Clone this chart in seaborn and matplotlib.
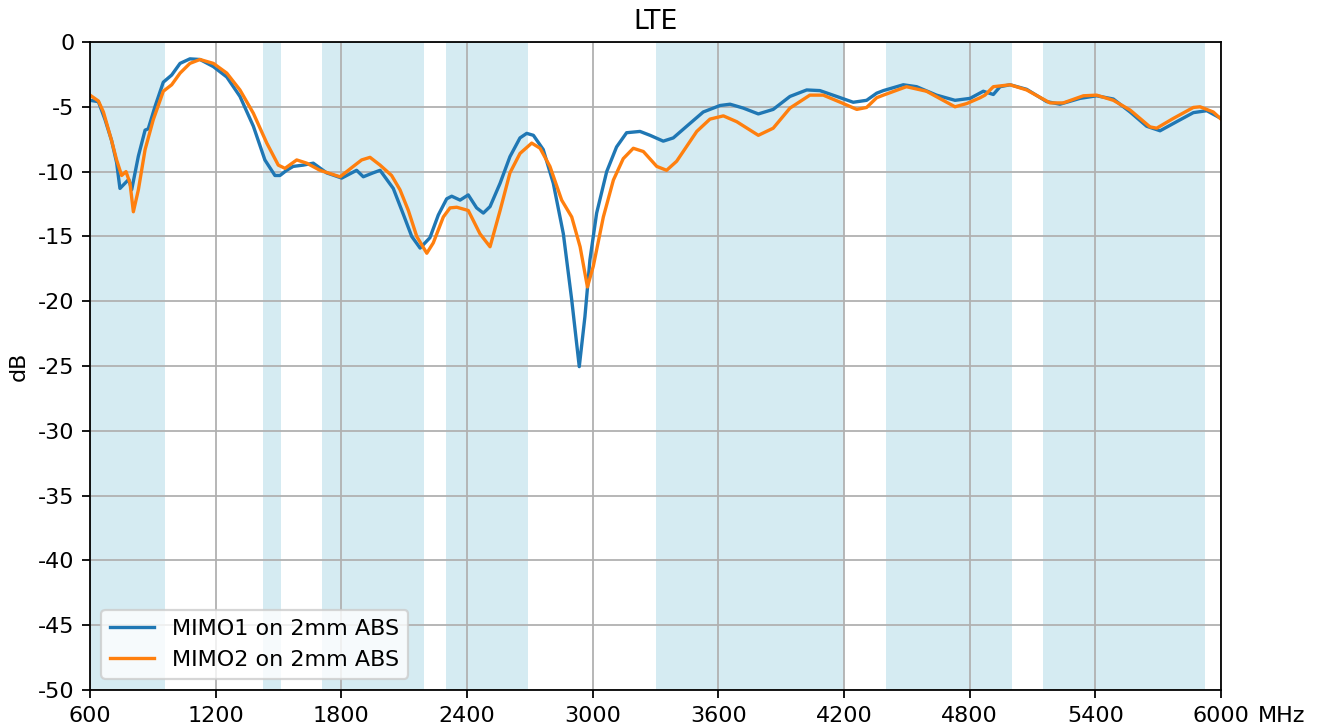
import matplotlib
matplotlib.use("Agg")
import matplotlib.pyplot as plt
import seaborn as sns
import pandas as pd

mimo1_freq = [600, 640, 672, 703, 727, 743, 767, 785, 799, 831, 863, 878, 910, 950, 990, 1030,
              1077, 1125, 1189, 1253, 1316, 1380, 1435, 1483, 1507, 1539, 1570, 1618, 1666, 1730,
              1802, 1873, 1905, 1951, 1985, 2048, 2096, 2136, 2176, 2223, 2263, 2303, 2327, 2367,
              2406, 2446, 2478, 2510, 2558, 2605, 2653, 2685, 2717, 2764, 2812, 2860, 2900, 2936,
              2963, 2987, 3019, 3067, 3114, 3162, 3226, 3274, 3337, 3385, 3449, 3528, 3608, 3656,
              3719, 3791, 3862, 3942, 4022, 4085, 4165, 4244, 4308, 4356, 4388, 4483, 4547, 4642,
              4730, 4802, 4865, 4913, 4945, 4993, 5072, 5168, 5231, 5327, 5406, 5486, 5566, 5645,
              5709, 5788, 5868, 5932, 6000]
mimo1_db = [-4.5, -4.6, -6.0, -7.6, -9.3, -11.3, -10.9, -10.6, -11.4, -8.8, -6.8, -6.7, -5.0, -3.1,
            -2.55, -1.65, -1.3, -1.35, -1.9, -2.7, -4.2, -6.5, -9.1, -10.3, -10.3, -9.9, -9.6, -9.5,
            -9.35, -10.1, -10.5, -9.9, -10.4, -10.1, -9.9, -11.3, -13.3, -15.0, -15.9, -15.1, -13.35,
            -12.1, -11.9, -12.2, -11.8, -12.8, -13.2, -12.7, -10.9, -8.85, -7.4, -7.05, -7.2, -8.3,
            -10.9, -14.8, -19.9, -25.05, -21.2, -16.8, -13.2, -10.0, -8.1, -7.0, -6.9, -7.2, -7.65,
            -7.4, -6.5, -5.4, -4.9, -4.8, -5.1, -5.55, -5.2, -4.2, -3.7, -3.75, -4.2, -4.65, -4.5,
            -3.95, -3.75, -3.3, -3.45, -4.1, -4.5, -4.35, -3.8, -4.05, -3.45, -3.3, -3.65, -4.6,
            -4.8, -4.35, -4.15, -4.4, -5.4, -6.5, -6.85, -6.15, -5.45, -5.3, -5.9]

mimo2_freq = [600, 640, 664, 703, 727, 751, 772, 791, 807, 831, 863, 902, 950, 990, 1030, 1077,
              1125, 1189, 1253, 1316, 1380, 1444, 1499, 1531, 1587, 1635, 1698, 1794, 1857, 1897,
              1937, 1985, 2040, 2080, 2120, 2160, 2208, 2239, 2287, 2319, 2351, 2406, 2462, 2510,
              2558, 2605, 2653, 2709, 2749, 2796, 2852, 2900, 2940, 2975, 3003, 3051, 3099, 3146,
              3194, 3242, 3306, 3353, 3401, 3497, 3560, 3624, 3688, 3791, 3862, 3942, 4037, 4101,
              4197, 4261, 4308, 4356, 4388, 4498, 4594, 4730, 4786, 4850, 4873, 4913, 4993, 5072,
              5184, 5247, 5343, 5406, 5486, 5566, 5661, 5693, 5772, 5868, 5900, 5963, 6000]
mimo2_db = [-4.1, -4.55, -5.4, -7.6, -9.1, -10.3, -10.0, -10.9, -13.1, -11.4, -8.3, -6.0, -3.8,
            -3.3, -2.4, -1.65, -1.35, -1.65, -2.4, -3.7, -5.5, -7.8, -9.5, -9.75, -9.1, -9.35, -9.9,
            -10.4, -9.6, -9.1, -8.9, -9.5, -10.3, -11.4, -13.0, -15.0, -16.3, -15.5, -13.5, -12.8,
            -12.75, -13.0, -14.8, -15.8, -13.0, -10.1, -8.6, -7.8, -8.2, -9.6, -12.2, -13.5, -15.8,
            -18.9, -17.3, -13.5, -10.65, -9.0, -8.2, -8.45, -9.6, -9.9, -9.2, -6.9, -5.95, -5.7,
            -6.15, -7.2, -6.65, -5.1, -4.1, -4.1, -4.75, -5.2, -5.05, -4.3, -4.1, -3.45, -3.8, -5.0,
            -4.75, -4.3, -4.1, -3.45, -3.3, -3.7, -4.7, -4.7, -4.15, -4.1, -4.5, -5.25, -6.55,
            -6.65, -5.9, -5.05, -5.0, -5.4, -5.95]

band_starts = [600, 1427, 1710, 2300, 3300, 4400, 5150]
band_ends = [960, 1511, 2195, 2690, 4200, 5000, 5925]

series_labels = ["MIMO1 on 2mm ABS", "MIMO2 on 2mm ABS"]
x_ticks = [600, 1200, 1800, 2400, 3000, 3600, 4200, 4800, 5400, 6000]
y_ticks = [0, -5, -10, -15, -20, -25, -30, -35, -40, -45, -50]

df1 = pd.DataFrame({"freq": mimo1_freq, "db": mimo1_db})
df2 = pd.DataFrame({"freq": mimo2_freq, "db": mimo2_db})

DPI = 160
fig = plt.figure(figsize=(1321 / DPI, 728 / DPI), dpi=DPI)
ax = fig.add_axes([90 / 1321, 38 / 728, (1221 - 90) / 1321, (690 - 42) / 728])

for s, e in zip(band_starts, band_ends):
    ax.axvspan(s, e, color="lightblue", alpha=0.5, lw=0)

sns.lineplot(data=df1, x="freq", y="db", ax=ax, color="tab:blue", label=series_labels[0],
             sort=False, estimator=None, linewidth=1.5)
sns.lineplot(data=df2, x="freq", y="db", ax=ax, color="tab:orange", label=series_labels[1],
             sort=False, estimator=None, linewidth=1.5)

ax.set_xlim(600, 6000)
ax.set_ylim(-50, 0)
ax.set_xticks(x_ticks)
ax.set_xticklabels([str(t) for t in x_ticks])
ax.set_yticks(y_ticks)
ax.set_yticklabels([str(t) for t in y_ticks])
ax.grid(True, color="#b0b0b0", linewidth=0.8)
ax.set_xlabel("")
ax.set_ylabel("dB")
ax.set_title("LTE")
ax.annotate("MHz", xy=(1, 0), xycoords="axes fraction", xytext=(16.5, -7),
            textcoords="offset points", ha="left", va="top", fontsize=10)
ax.legend(loc="lower left")

fig.savefig("out.png", dpi=DPI)
